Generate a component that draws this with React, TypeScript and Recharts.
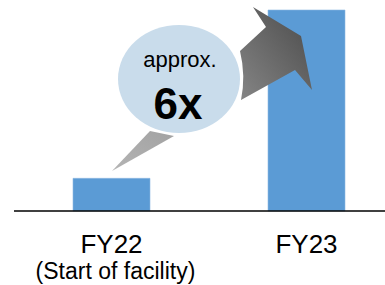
import React from "react";
import { BarChart, Bar, XAxis, YAxis } from "recharts";

const categories = ["FY22", "FY23"];
const subLabels = ["(Start of facility)", ""];
const values = [1.0, 6.15];
const bubbleTop = "approx.";
const bubbleMain = "6x";

const data = categories.map((c, i) => ({ name: c, sub: subLabels[i], value: values[i] }));

const FONT = "'Liberation Sans', Arial, sans-serif";

const Tick = (props: any) => {
  const { x, y, payload, index } = props;
  const sub = subLabels[index];
  return (
    <g>
      <text x={x} y={y + 42} textAnchor="middle" fontFamily={FONT} fontSize={26} fill="#000">
        {payload.value}
      </text>
      {sub ? (
        <text x={x + 4} y={y + 68} textAnchor="middle" fontFamily={FONT} fontSize={23} fill="#000">
          {sub}
        </text>
      ) : null}
    </g>
  );
};

export default function App() {
  return (
    <div style={{ position: "absolute", left: 0, top: 0, width: 385, height: 285, overflow: "hidden", background: "#fff" }}>
      <BarChart width={404} height={285} data={data} margin={{ top: 10, right: 0, left: 14, bottom: 0 }}>
        <YAxis hide domain={[0, 6.15]} />
        <XAxis
          dataKey="name"
          height={74}
          axisLine={{ stroke: "#000", strokeWidth: 1.5 }}
          tickLine={false}
          tickSize={0}
          tickMargin={0}
          tick={<Tick />}
          interval={0}
        />
        <Bar dataKey="value" fill="#5B9BD5" stroke="#8DB8E2" strokeWidth={0.6} barSize={77} isAnimationActive={false} />
      </BarChart>
      <svg width={385} height={285} style={{ position: "absolute", left: 0, top: 0, pointerEvents: "none" }}>
        <defs>
          <linearGradient id="arrowGrad" x1="0" y1="1" x2="1" y2="0">
            <stop offset="0" stopColor="#858585" />
            <stop offset="1" stopColor="#4A4A4A" />
          </linearGradient>
          <linearGradient id="tailGrad" x1="0" y1="1" x2="1" y2="0">
            <stop offset="0" stopColor="#B4B4B4" />
            <stop offset="1" stopColor="#A2A2A2" />
          </linearGradient>
        </defs>
        <path
          d="M253 7 L301 36 L312 90 L295 70 L241 100 Q246 76 240 51 L266 27 Z"
          fill="url(#arrowGrad)"
        />
        <path d="M150 131 L174 136 L112 171 Z" fill="url(#tailGrad)" />
        <ellipse cx={179} cy={79} rx={61} ry={54} fill="#C9DCEB" />
        <text x={180} y={67} textAnchor="middle" fontFamily={FONT} fontSize={22} fill="#000">
          {bubbleTop}
        </text>
        <text x={178} y={119} textAnchor="middle" fontFamily={FONT} fontSize={44} fontWeight="bold" fill="#000">
          {bubbleMain}
        </text>
      </svg>
    </div>
  );
}
